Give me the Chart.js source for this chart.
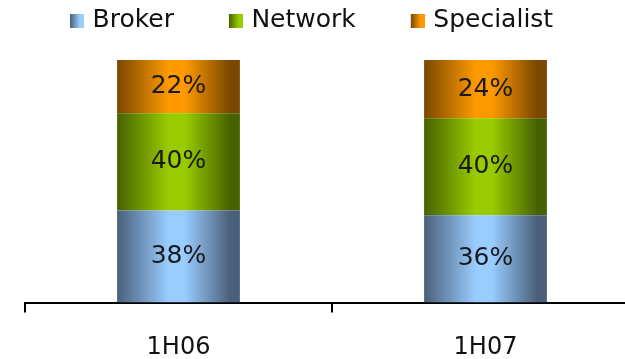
<!DOCTYPE html>
<html>
<head>
<meta charset="utf-8">
<script src="https://cdn.jsdelivr.net/npm/chart.js@4"></script>
<style>
  html, body { margin: 0; padding: 0; background: #fff; overflow: hidden; }
  #wrap { width: 639px; height: 359px; position: relative; }
</style>
</head>
<body>
<div id="wrap"><canvas id="mixChart"></canvas></div>
<script>
// periodes
const periods = ["1H06", "1H07"];

// part de chaque canal (%)
const broker = [38, 36];
const network = [40, 40];
const specialist = [22, 24];

// couleurs : bord sombre / centre clair
const brokerColors = ["#4a607a", "#99ccff"];
const networkColors = ["#466200", "#99cc00"];
const specialistColors = ["#7a4800", "#ff9900"];

const font = "'DejaVu Sans', Verdana, sans-serif";

// degrade horizontal sur la largeur de chaque barre
function barFill(colors) {
    return function (context) {
        const chart = context.chart;
        const { ctx, chartArea, scales } = chart;
        if (!chartArea) return colors[1];
        const cx = scales.x.getPixelForValue(context.dataIndex);
        const half = scales.x.width / periods.length * 0.4 / 2;
        const g = ctx.createLinearGradient(cx - half, 0, cx + half, 0);
        g.addColorStop(0, colors[0]);
        g.addColorStop(0.42, colors[1]);
        g.addColorStop(0.55, colors[1]);
        g.addColorStop(0.92, colors[0]);
        g.addColorStop(1, colors[0]);
        return g;
    };
}

// petit carre de legende (avec marge transparente a gauche)
function legendMarker(colors) {
    const c = document.createElement("canvas");
    c.width = 65;
    c.height = 14;
    const x = c.getContext("2d");
    const g = x.createLinearGradient(51, 0, 65, 0);
    g.addColorStop(0, colors[0]);
    g.addColorStop(0.7, colors[1]);
    g.addColorStop(1, colors[1]);
    x.fillStyle = g;
    x.fillRect(51, 0, 14, 14);
    return c;
}
const markers = [legendMarker(brokerColors), legendMarker(networkColors), legendMarker(specialistColors)];

// espace entre la legende et le graphique
const legendGap = {
    id: "legendGap",
    beforeInit(chart) {
        const fit = chart.legend.fit;
        chart.legend.fit = function () {
            fit.bind(chart.legend)();
            this.height += 17;
        };
    }
};

// pourcentages au milieu de chaque segment
const valueLabels = {
    id: "valueLabels",
    afterDatasetsDraw(chart) {
        const ctx = chart.ctx;
        ctx.save();
        ctx.font = "25px " + font;
        ctx.fillStyle = "#1a1a1a";
        ctx.textAlign = "center";
        ctx.textBaseline = "middle";
        chart.data.datasets.forEach((ds, i) => {
            chart.getDatasetMeta(i).data.forEach((bar, j) => {
                ctx.fillText(ds.data[j] + "%", bar.x, (bar.y + bar.base) / 2);
            });
        });
        ctx.restore();
    }
};

new Chart(document.getElementById("mixChart"), {
    type: "bar",
    data: {
        labels: periods,
        datasets: [
            { label: "Broker", data: broker, backgroundColor: barFill(brokerColors) },
            { label: "Network", data: network, backgroundColor: barFill(networkColors) },
            { label: "Specialist", data: specialist, backgroundColor: barFill(specialistColors) }
        ]
    },
    options: {
        responsive: true,
        maintainAspectRatio: false,
        animation: false,
        categoryPercentage: 0.5,
        barPercentage: 0.8,
        layout: { padding: { left: 15, right: 0, top: 0, bottom: -24 } },
        plugins: {
            tooltip: { enabled: false },
            legend: {
                position: "top",
                align: "start",
                labels: {
                    usePointStyle: true,
                    pointStyleWidth: 57,
                    padding: 8,
                    color: "#111",
                    font: { family: font, size: 25 },
                    generateLabels(chart) {
                        const items = Chart.defaults.plugins.legend.labels.generateLabels(chart);
                        items.forEach((item, i) => { item.pointStyle = markers[i]; });
                        return items;
                    }
                }
            }
        },
        scales: {
            x: {
                stacked: true,
                grid: { offset: true, drawOnChartArea: false, drawTicks: true, tickLength: 10, color: "#000", lineWidth: 2 },
                border: { color: "#000", width: 2 },
                ticks: { color: "#111", padding: 22, font: { family: font, size: 24, lineHeight: 1.1 } }
            },
            y: {
                stacked: true,
                min: 0,
                max: 100,
                grid: { display: false, drawTicks: false },
                border: { display: false },
                ticks: { display: false },
                afterFit(scale) { scale.width = 10; }
            }
        }
    },
    plugins: [legendGap, valueLabels]
});
</script>
</body>
</html>
